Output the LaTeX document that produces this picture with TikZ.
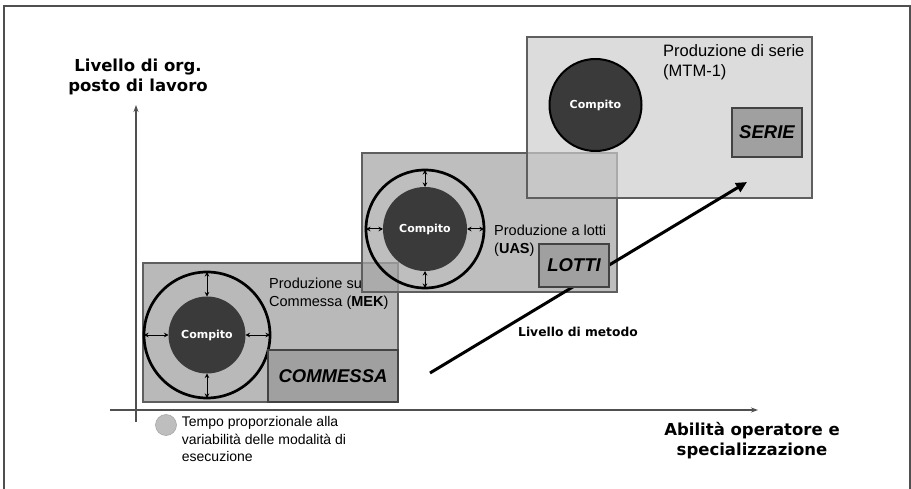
\documentclass[tikz,border=0pt]{standalone}
\usepackage{fontspec}
\setmainfont{Liberation Sans}
\newfontfamily\vfont{DejaVu Sans}
\usetikzlibrary{arrows.meta}
\definecolor{bxone}{RGB}{185,185,185}
\definecolor{bxtwo}{RGB}{167,167,167}
\definecolor{bxthree}{RGB}{204,204,204}
\definecolor{tagc}{RGB}{160,160,160}
\definecolor{darkc}{RGB}{58,58,58}
\definecolor{edgec}{RGB}{95,95,95}
\definecolor{axisc}{RGB}{80,80,80}
\definecolor{legc}{RGB}{190,190,190}
\tikzset{
 region/.style={draw=edgec, line width=1.1pt, anchor=north west, inner sep=0pt, outer sep=0pt},
 tag/.style={draw=edgec!70!black, line width=1.1pt, fill=tagc, inner sep=0pt, font=\fontsize{18.5}{20}\selectfont\bfseries\itshape},
 ring/.style={circle, draw=black, line width=2.7pt, inner sep=0pt, outer sep=0pt},
 core/.style={circle, fill=darkc, inner sep=0pt, outer sep=0pt, text=white, font=\vfont\bfseries\fontsize{11}{13}\selectfont},
 dbl/.style={{Stealth[length=4.5pt,width=4.5pt]}-{Stealth[length=4.5pt,width=4.5pt]}, line width=1pt},
 desc/.style={anchor=west, align=left, inner sep=0pt, font=\fontsize{14.5}{18}\selectfont},
 axlab/.style={align=center, inner sep=0pt, font=\vfont\bfseries\fontsize{16.5}{20}\selectfont},
 axisline/.style={draw=axisc, line width=1.4pt, -{Stealth[length=7pt,width=5pt]}},
}
\begin{document}
\begin{tikzpicture}[x=1pt,y=-1pt]
\useasboundingbox (0,0) rectangle (911,489);
% frame
\coordinate (f1) at (4,489);
\coordinate (f2) at (4,6);
\coordinate (f3) at (910,6);
\coordinate (f4) at (910,489);
\draw[axisc, line width=1.4pt] (f1) -- (f2) -- (f3) -- (f4);
% axes
\coordinate (yb) at (136,422);
\coordinate (yt) at (136,105);
\coordinate (xl) at (110,410);
\coordinate (xr) at (758,410);
\draw[axisline] (yb) -- (yt);
\draw[axisline] (xl) -- (xr);
\node[axlab] (ylab) at (138,77) {Livello di org.\\posto di lavoro};
\node[axlab] (xlab) at (752,441) {Abilità operatore e\\specializzazione};
% box 1
\node[region, fill=bxone, minimum width=255, minimum height=139] (b1) at (143,263) {};
\node[ring, minimum size=126] (o1) at (207,335) {};
\node[core, minimum size=77] (c1) at (207,335) {Compito};
\draw[dbl] (o1.north) -- (c1.north);
\draw[dbl] (o1.south) -- (c1.south);
\draw[dbl] (o1.west) -- (c1.west);
\draw[dbl] (o1.east) -- (c1.east);
\node[desc] (t1) at (269,294) {Produzione su\\Commessa (\textbf{MEK})};
\node[tag, minimum width=130, minimum height=52] (k1) at (333,376) {COMMESSA};
% box 2
\node[region, fill=bxtwo, fill opacity=0.74, minimum width=255, minimum height=139] (b2) at (362,153) {};
\node[ring, minimum size=118] (o2) at (425,229) {};
\node[core, minimum size=84] (c2) at (425,229) {Compito};
\draw[dbl] (o2.north) -- (c2.north);
\draw[dbl] (o2.south) -- (c2.south);
\draw[dbl] (o2.west) -- (c2.west);
\draw[dbl] (o2.east) -- (c2.east);
\node[desc] (t2) at (494,241) {Produzione a lotti\\(\textbf{UAS})};
% box 3
\node[region, fill=bxthree, fill opacity=0.69, minimum width=285, minimum height=161] (b3) at (527,37) {};
\node[core, draw=black, line width=2pt, minimum size=92] (c3) at (595.5,105) {Compito};
\node[desc, font=\fontsize{16.5}{20}\selectfont] (t3) at (663,62) {Produzione di serie\\(MTM-1)};
\node[tag, minimum width=70, minimum height=49] (k3) at (767,132.5) {SERIE};
% method arrow
\coordinate (ds) at (430,373);
\coordinate (de) at (747,182);
\draw[line width=3pt, -{Triangle[length=11pt,width=10pt]}] (ds) -- (de);
\node[tag, minimum width=70, minimum height=43] (k2) at (574,265.5) {LOTTI};
\node[inner sep=0pt, font=\vfont\bfseries\fontsize{12.3}{14}\selectfont] (lm) at (578,332) {Livello di metodo};
% legend
\node[circle, fill=legc, draw=legc!85!black, line width=0.5pt, minimum size=21, inner sep=0pt] (lg) at (166,425) {};
\node[desc, font=\fontsize{14}{17.5}\selectfont] (lt) at (181.7,439) {Tempo proporzionale alla\\variabilità delle modalità di\\esecuzione};
\end{tikzpicture}
\end{document}
